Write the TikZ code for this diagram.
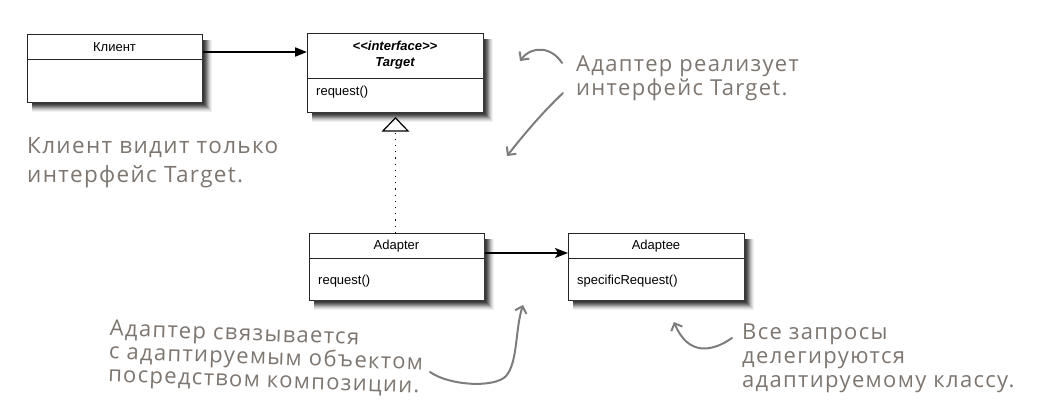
\documentclass[tikz,border=0pt]{standalone}
\usepackage{fontspec}
\setmainfont{Liberation Sans}
\newfontfamily\hand[LetterSpace=6]{Open Sans}
\usetikzlibrary{arrows.meta,calc}
\definecolor{handgray}{RGB}{125,118,112}
\definecolor{arrgray}{RGB}{125,125,125}
\tikzset{
  classbox/.style={draw=black!85, line width=0.9pt, fill=white, anchor=north west, inner sep=0pt},
  sep/.style={draw=black!85, line width=0.9pt},
  umltext/.style={font=\fontsize{13}{15}\selectfont, inner sep=0pt},
  memb/.style={umltext, anchor=west},
  assoc/.style={line width=1.8pt, -{Triangle[length=12pt,width=9pt]}},
  assoc2/.style={line width=1.8pt, -{Stealth[length=13pt,width=10pt,inset=3pt]}},
  realize/.style={line width=1.2pt, dash pattern=on 1.2pt off 5pt},
  note/.style={font=\hand\fontsize{22}{24}\selectfont, text=handgray, align=left, anchor=north west, inner sep=0pt},
  notearrow/.style={draw=arrgray, line width=2pt, line cap=round, -{Straight Barb[length=6pt,width=12pt]}},
  shadestroke/.style={line width=1.3pt, line cap=butt, line join=miter}
}
% soft shadow along the bottom and right of a box (x1,y1)-(x2,y2)
\newcommand\lshade[4]{%
  \foreach \k/\g in {9/6,8/12,7/20,6/30,5/42,4/54,3/64,2/72,1/78} {
    \draw[shadestroke, black!\g] ({#1+5},{#4+\k}) -- ({#3+\k},{#4+\k}) -- ({#3+\k},{#2+6});
  }}
\begin{document}
\begin{tikzpicture}[x=1pt,y=-1pt]
\useasboundingbox (0,0) rectangle (1038,407);
% class boxes
\node[classbox, minimum width=175, minimum height=68] (client) at (27,34) {};
\draw[sep] (27,59) -- (202,59);
\node[umltext] (clientname) at (114.5,47) {Клиент};

\node[classbox, minimum width=176, minimum height=79] (target) at (307,33) {};
\draw[sep] (307,78) -- (483,78);
\node[umltext, align=center, font=\fontsize{13}{16}\selectfont\bfseries\itshape] (targetname) at (395,55) {{<}{<}interface{>}{>}\\Target};
\node[memb] (targetreq) at (316,92) {request()};

\node[classbox, minimum width=175, minimum height=67] (adapter) at (309,233) {};
\draw[sep] (309,258) -- (484,258);
\node[umltext] (adaptername) at (396.5,246) {Adapter};
\node[memb] (adapterreq) at (318,281) {request()};

\node[classbox, minimum width=176, minimum height=67] (adaptee) at (568,233) {};
\draw[sep] (568,258) -- (744,258);
\node[umltext] (adapteename) at (656,246) {Adaptee};
\node[memb] (adapteereq) at (577,281) {specificRequest()};

% shadows
\lshade{27}{34}{202}{102}
\lshade{307}{33}{483}{112}
\lshade{309}{233}{484}{300}
\lshade{568}{233}{744}{300}

% connectors
\coordinate (y52) at (0,52);
\coordinate (y253) at (0,253);
\draw[assoc] (client.east |- y52) -- (target.west |- y52);
\draw[assoc2] (adapter.east |- y253) -- (adaptee.west |- y253);
\coordinate (tritip) at ($(target.south)+(0,5)$);
\coordinate (tribase) at ($(tritip)+(0,13)$);
\draw[realize] (adapter.north -| tritip) -- (tribase);
\draw[line width=1.2pt, fill=white] (tritip) -- ($(tribase)+(-12.5,0)$) -- ($(tribase)+(12.5,0)$) -- cycle;

% notes
\node[note] (n1) at (576,56) {Адаптер реализует\\интерфейс Target.};
\node[note, font=\hand\fontsize{22.5}{29}\selectfont] (n2) at (27,137) {Клиент видит только\\интерфейс Target.};
\node[note, rotate=-2, font=\hand\fontsize{22}{23}\selectfont] (n3) at (110,320) {Адаптер связывается\\с адаптируемым объектом\\посредством композиции.};
\node[note, font=\hand\fontsize{22}{24}\selectfont] (n4) at (742,324) {Все запросы\\делегируются\\адаптируемому классу.};

% note arrows
\coordinate (a1s) at (562,63); \coordinate (a1e) at (520,61);
\draw[notearrow] (a1s) .. controls (552,47) and (532,45) .. (a1e);
\coordinate (a2s) at (563,93); \coordinate (a2e) at (507,156);
\draw[notearrow] (a2s) .. controls (543,112) and (525,133) .. (a2e);
\coordinate (a3s) at (430,372); \coordinate (a3e) at (523,305);
\draw[notearrow] (a3s) .. controls (450,386) and (495,388) .. (506,376) .. controls (518,362) and (515,330) .. (a3e);
\coordinate (a4s) at (732,338); \coordinate (a4e) at (674,322);
\draw[notearrow] (a4s) .. controls (712,352) and (688,356) .. (a4e);
\end{tikzpicture}
\end{document}
